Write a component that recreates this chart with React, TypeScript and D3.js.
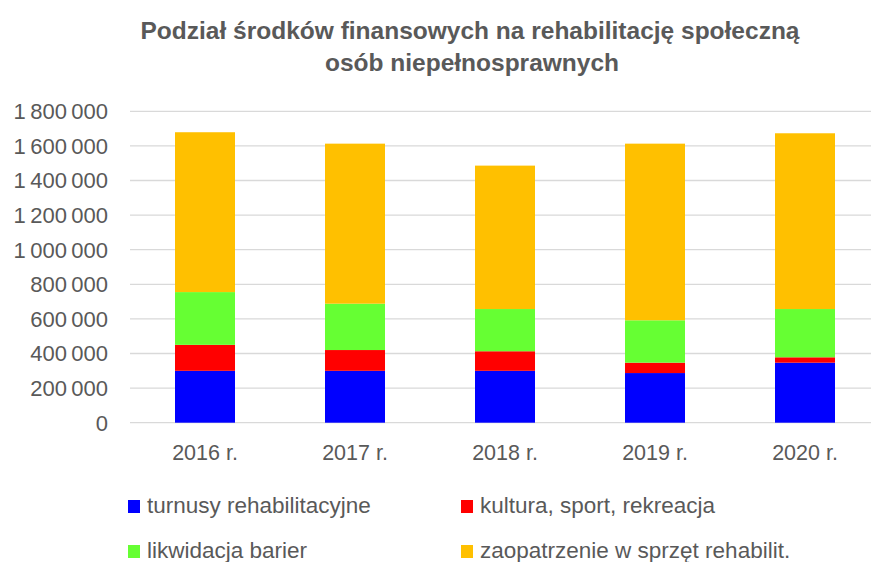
import React from "react";
import * as d3 from "d3";

const categories = ["2016 r.", "2017 r.", "2018 r.", "2019 r.", "2020 r."];
const seriesNames = [
  "turnusy rehabilitacyjne",
  "kultura, sport, rekreacja",
  "likwidacja barier",
  "zaopatrzenie w sprzęt rehabilit.",
];
const turnusy = [300000, 300000, 300000, 287000, 347000];
const kultura = [150000, 120000, 113000, 60000, 31000];
const bariery = [305000, 268000, 244000, 245000, 279000];
const zaopatrzenie = [924000, 925000, 829000, 1021000, 1016000];
const seriesColors = ["#0000FF", "#FF0000", "#66FF33", "#FFC000"];
const yTicks = [0, 200000, 400000, 600000, 800000, 1000000, 1200000, 1400000, 1600000, 1800000];

const W = 871;
const H = 562;
const FONT = "'Liberation Sans', Arial, sans-serif";
const TEXT = "#595959";

export default function App() {
  const seriesValues = [turnusy, kultura, bariery, zaopatrzenie];
  const rows = categories.map((c, i) => {
    const r: any = { cat: c };
    seriesNames.forEach((s, j) => (r[s] = seriesValues[j][i]));
    return r;
  });
  const stack = d3.stack<any>().keys(seriesNames)(rows);

  const x = d3
    .scaleBand<string>()
    .domain(categories)
    .range([130, 880])
    .paddingInner(0.6)
    .paddingOuter(0.3);
  const y = d3.scaleLinear().domain([0, 1800000]).range([422.7, 111.3]);

  const fmt = (v: number) => d3.format(",")(v).replace(/,/g, "\u2009");

  const legendPos = [
    { x: 128, y: 500 },
    { x: 461, y: 500 },
    { x: 128, y: 545 },
    { x: 461, y: 545 },
  ];

  return (
    <svg
      width={W}
      height={H}
      style={{ position: "absolute", left: 0, top: 0, background: "#fff" }}
      fontFamily={FONT}
    >
      <rect width={W} height={H} fill="#fff" />
      <text x={470} y={39} textAnchor="middle" fontSize={24.5} fontWeight="bold" fill={TEXT}>
        Podział środków finansowych na rehabilitację społeczną
      </text>
      <text x={472} y={71} textAnchor="middle" fontSize={24.5} fontWeight="bold" fill={TEXT}>
        osób niepełnosprawnych
      </text>
      {yTicks.map((t) => (
        <g key={t}>
          <line x1={130} x2={880} y1={y(t)} y2={y(t)} stroke="#d9d9d9" strokeWidth={1.3} />
          <text x={108} y={y(t)} dy="0.36em" textAnchor="end" fontSize={22} fill={TEXT}>
            {fmt(t)}
          </text>
        </g>
      ))}
      {stack.map((s, j) => (
        <g key={s.key} fill={seriesColors[j]}>
          {s.map((d, i) => (
            <rect
              key={i}
              x={x(categories[i])}
              width={x.bandwidth()}
              y={y(d[1])}
              height={y(d[0]) - y(d[1])}
            />
          ))}
        </g>
      ))}
      {categories.map((c) => (
        <text
          key={c}
          x={(x(c) as number) + x.bandwidth() / 2}
          y={460}
          textAnchor="middle"
          fontSize={21.5}
          fill={TEXT}
        >
          {c}
        </text>
      ))}
      {seriesNames.map((s, j) => (
        <g key={s}>
          <rect x={legendPos[j].x} y={legendPos[j].y} width={12} height={13} fill={seriesColors[j]} />
          <text x={legendPos[j].x + 19} y={legendPos[j].y + 13} fontSize={22.5} fill={TEXT}>
            {s}
          </text>
        </g>
      ))}
    </svg>
  );
}
